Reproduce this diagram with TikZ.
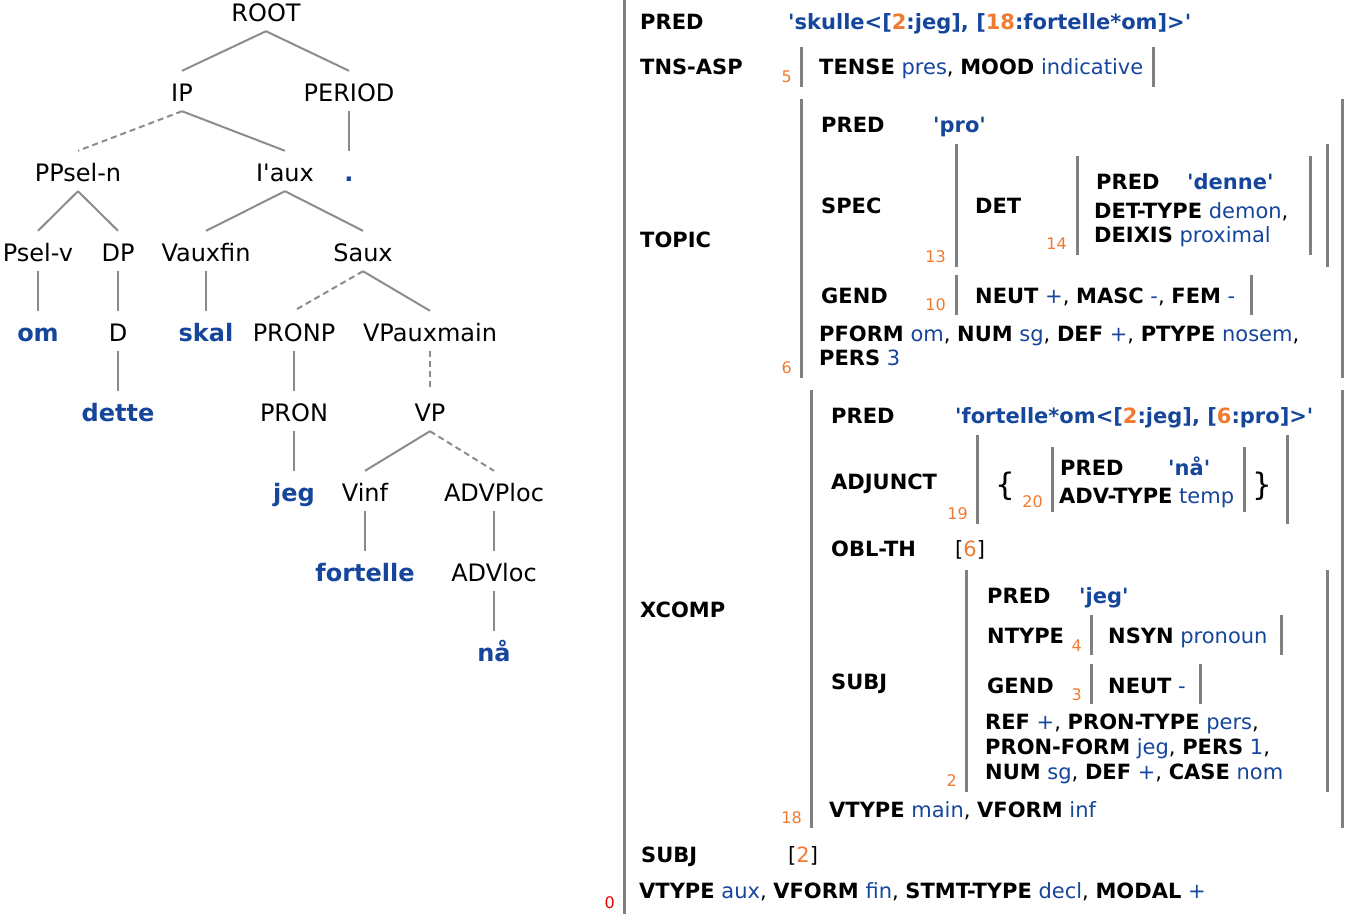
\documentclass[tikz,border=0pt]{standalone}
\usepackage{fontspec}
\setmainfont{DejaVu Sans}[Ligatures=TeXOff]
\usepackage{tikz}
\usetikzlibrary{positioning}
\pgfdeclarelayer{background}
\pgfsetlayers{background,main}
\definecolor{fsblue}{RGB}{22,70,155}
\definecolor{fsorange}{RGB}{240,122,48}
\definecolor{fsred}{RGB}{230,0,0}
\definecolor{barcol}{RGB}{128,128,128}
\definecolor{treeline}{RGB}{140,140,140}
\newcommand{\fa}[1]{\textbf{#1}}
\newcommand{\fv}[1]{\textcolor{fsblue}{#1}}
\newcommand{\fp}[1]{\textcolor{fsblue}{\textbf{#1}}}
\newcommand{\fn}[1]{\textcolor{fsorange}{#1}}

\begin{document}
\begin{tikzpicture}[x=1pt,y=-1pt,
						treenode/.style={anchor=base, inner xsep=0pt, inner ysep=10pt, text height=20pt, text depth=0pt, font=\fontsize{24}{28}\selectfont},
						leafnode/.style={treenode, text=fsblue, font=\fontsize{24}{28}\selectfont\bfseries},
						branch/.style={draw=treeline, line width=2pt},
						gap/.style={dash pattern=on 6pt off 4pt},
						fsnode/.style={anchor=base west, inner sep=0pt, font=\fontsize{21}{24}\selectfont},
						idxnode/.style={anchor=base east, inner sep=0pt, text=fsorange, font=\fontsize{16}{18}\selectfont},
						bracenode/.style={anchor=center, inner sep=0pt, font=\fontsize{31}{34}\selectfont},
						fsbar/.style={draw=barcol, line width=3pt},
						]
						\useasboundingbox (0,0) rectangle (1365,919);
						%Tree nodes
						\node[treenode]      (root)      at (266,21)     {ROOT};
						\node[treenode]      (ip)        at (182,101)    {IP};
						\node[treenode]      (period)    at (349,101)    {PERIOD};
						\node[treenode]      (ppseln)    at (78,181)     {PPsel-n};
						\node[treenode]      (iaux)      at (285,181)    {I'aux};
						\node[leafnode]      (dot)       at (349,181)    {.};
						\node[treenode]      (pselv)     at (38,261)     {Psel-v};
						\node[treenode]      (dp)        at (118,261)    {DP};
						\node[treenode]      (vauxfin)   at (206,261)    {Vauxfin};
						\node[treenode]      (saux)      at (363,261)    {Saux};
						\node[leafnode]      (om)        at (38,341)     {om};
						\node[treenode]      (d)         at (118,341)    {D};
						\node[leafnode]      (skal)      at (206,341)    {skal};
						\node[treenode]      (pronp)     at (294,341)    {PRONP};
						\node[treenode]      (vpauxmain) at (430,341)    {VPauxmain};
						\node[leafnode]      (dette)     at (118,421)    {dette};
						\node[treenode]      (pron)      at (294,421)    {PRON};
						\node[treenode]      (vp)        at (430,421)    {VP};
						\node[leafnode]      (jeg)       at (294,501)    {jeg};
						\node[treenode]      (vinf)      at (365,501)    {Vinf};
						\node[treenode]      (advploc)   at (494,501)    {ADVPloc};
						\node[leafnode]      (fortelle)  at (365,581)    {fortelle};
						\node[treenode]      (advloc)    at (494,581)    {ADVloc};
						\node[leafnode]      (naa)       at (494,661)    {nå};

						\begin{pgfonlayer}{background}
						%Tree lines
						\draw[branch] (root.south) -- (ip.north);
						\draw[branch] (root.south) -- (period.north);
						\draw[branch,gap] (ip.south) -- (ppseln.north);
						\draw[branch] (ip.south) -- (iaux.north);
						\draw[branch] (period.south) -- (dot.north);
						\draw[branch] (ppseln.south) -- (pselv.north);
						\draw[branch] (ppseln.south) -- (dp.north);
						\draw[branch] (iaux.south) -- (vauxfin.north);
						\draw[branch] (iaux.south) -- (saux.north);
						\draw[branch] (pselv.south) -- (om.north);
						\draw[branch] (dp.south) -- (d.north);
						\draw[branch] (vauxfin.south) -- (skal.north);
						\draw[branch,gap] (saux.south) -- (pronp.north);
						\draw[branch] (saux.south) -- (vpauxmain.north);
						\draw[branch] (d.south) -- (dette.north);
						\draw[branch] (pronp.south) -- (pron.north);
						\draw[branch,gap] (vpauxmain.south) -- (vp.north);
						\draw[branch] (pron.south) -- (jeg.north);
						\draw[branch] (vp.south) -- (vinf.north);
						\draw[branch,gap] (vp.south) -- (advploc.north);
						\draw[branch] (vinf.south) -- (fortelle.north);
						\draw[branch] (advploc.south) -- (advloc.north);
						\draw[branch] (advloc.south) -- (naa.north);
						\end{pgfonlayer}

						%F-structure bars
						\draw[fsbar] (624,0) -- (624,914);
						\draw[fsbar] (801,47) -- (801,87);
						\draw[fsbar] (1153,47) -- (1153,87);
						\draw[fsbar] (801,99) -- (801,378);
						\draw[fsbar] (1342,99) -- (1342,378);
						\draw[fsbar] (956,144) -- (956,267);
						\draw[fsbar] (1327,144) -- (1327,267);
						\draw[fsbar] (1077,156) -- (1077,255);
						\draw[fsbar] (1310,156) -- (1310,255);
						\draw[fsbar] (956,275) -- (956,315);
						\draw[fsbar] (1251,275) -- (1251,315);
						\draw[fsbar] (811,390) -- (811,828);
						\draw[fsbar] (1342,390) -- (1342,828);
						\draw[fsbar] (977,435) -- (977,524);
						\draw[fsbar] (1287,435) -- (1287,524);
						\draw[fsbar] (1052,447) -- (1052,512);
						\draw[fsbar] (1244,447) -- (1244,512);
						\draw[fsbar] (966,570) -- (966,792);
						\draw[fsbar] (1327,570) -- (1327,792);
						\draw[fsbar] (1091,615) -- (1091,655);
						\draw[fsbar] (1281,615) -- (1281,655);
						\draw[fsbar] (1091,664) -- (1091,704);
						\draw[fsbar] (1200,664) -- (1200,704);

						%F-structure, outer level
						\node[fsnode]  (pred0)    at (640,29)   {\fa{PRED}};
						\node[fsnode]  (predv0)   at (788,29)   {\fp{'skulle<[\fn{2}:jeg], [\fn{18}:fortelle*om]>'}};
						\node[fsnode]  (tns)      at (640,74)   {\fa{TNS-ASP}};
						\node[idxnode] (i5)       at (792,82)   {5};
						\node[fsnode]  (tnsv)     at (819,74)   {\fa{TENSE} \fv{pres}, \fa{MOOD} \fv{indicative}};

						%TOPIC
						\node[fsnode]  (topic)    at (640,247)  {\fa{TOPIC}};
						\node[idxnode] (i6)       at (792,373)  {6};
						\node[fsnode]  (pred6)    at (821,132)  {\fa{PRED}};
						\node[fsnode]  (predv6)   at (933,132)  {\fp{'pro'}};
						\node[fsnode]  (spec)     at (821,213)  {\fa{SPEC}};
						\node[idxnode] (i13)      at (946,262)  {13};
						\node[fsnode]  (det)      at (975,213)  {\fa{DET}};
						\node[idxnode] (i14)      at (1067,249) {14};
						\node[fsnode]  (pred14)   at (1096,189) {\fa{PRED}};
						\node[fsnode]  (predv14)  at (1187,189) {\fp{'denne'}};
						\node[fsnode]  (dettype)  at (1094,218) {\fa{DET-TYPE} \fv{demon},};
						\node[fsnode]  (deixis)   at (1094,242) {\fa{DEIXIS} \fv{proximal}};
						\node[fsnode]  (gend6)    at (821,303)  {\fa{GEND}};
						\node[idxnode] (i10)      at (946,310)  {10};
						\node[fsnode]  (gendv6)   at (975,303)  {\fa{NEUT} \fv{+}, \fa{MASC} \fv{-}, \fa{FEM} \fv{-}};
						\node[fsnode]  (pform)    at (819,341)  {\fa{PFORM} \fv{om}, \fa{NUM} \fv{sg}, \fa{DEF} \fv{+}, \fa{PTYPE} \fv{nosem},};
						\node[fsnode]  (pers)     at (819,365)  {\fa{PERS} \fv{3}};

						%XCOMP
						\node[fsnode]  (xcomp)    at (640,617)  {\fa{XCOMP}};
						\node[idxnode] (i18)      at (802,823)  {18};
						\node[fsnode]  (pred18)   at (831,423)  {\fa{PRED}};
						\node[fsnode]  (predv18)  at (955,423)  {\fp{'fortelle*om<[\fn{2}:jeg], [\fn{6}:pro]>'}};
						\node[fsnode]  (adjunct)  at (831,489)  {\fa{ADJUNCT}};
						\node[idxnode] (i19)      at (968,519)  {19};
						\node[bracenode] (lbrace) at (1005,486) {\{};
						\node[idxnode] (i20)      at (1043,507) {20};
						\node[fsnode]  (pred20)   at (1060,475) {\fa{PRED}};
						\node[fsnode]  (predv20)  at (1168,475) {\fp{'nå'}};
						\node[fsnode]  (advtype)  at (1059,503) {\fa{ADV-TYPE} \fv{temp}};
						\node[bracenode] (rbrace) at (1262,486) {\}};
						\node[fsnode]  (oblth)    at (831,556)  {\fa{OBL-TH}};
						\node[fsnode]  (oblthv)   at (955,556)  {[\fn{6}]};
						\node[fsnode]  (subj2)    at (831,689)  {\fa{SUBJ}};
						\node[idxnode] (i2)       at (957,786)  {2};
						\node[fsnode]  (pred2)    at (987,603)  {\fa{PRED}};
						\node[fsnode]  (predv2)   at (1079,603) {\fp{'jeg'}};
						\node[fsnode]  (ntype)    at (987,643)  {\fa{NTYPE}};
						\node[idxnode] (i4)       at (1082,651) {4};
						\node[fsnode]  (nsyn)     at (1108,643) {\fa{NSYN} \fv{pronoun}};
						\node[fsnode]  (gend2)    at (987,693)  {\fa{GEND}};
						\node[idxnode] (i3)       at (1082,700) {3};
						\node[fsnode]  (neut2)    at (1108,693) {\fa{NEUT} \fv{-}};
						\node[fsnode]  (ref)      at (985,729)  {\fa{REF} \fv{+}, \fa{PRON-TYPE} \fv{pers},};
						\node[fsnode]  (pronform) at (985,754)  {\fa{PRON-FORM} \fv{jeg}, \fa{PERS} \fv{1},};
						\node[fsnode]  (num2)     at (985,779)  {\fa{NUM} \fv{sg}, \fa{DEF} \fv{+}, \fa{CASE} \fv{nom}};
						\node[fsnode]  (vtype18)  at (829,817)  {\fa{VTYPE} \fv{main}, \fa{VFORM} \fv{inf}};

						%Outer level, rest
						\node[fsnode]  (subj0)    at (641,862)  {\fa{SUBJ}};
						\node[fsnode]  (subjv0)   at (788,862)  {[\fn{2}]};
						\node[fsnode]  (vtype0)   at (639,898)  {\fa{VTYPE} \fv{aux}, \fa{VFORM} \fv{fin}, \fa{STMT-TYPE} \fv{decl}, \fa{MODAL} \fv{+}};
						\node[idxnode,text=fsred] (i0) at (615,908) {0};
					\end{tikzpicture}
\end{document}
